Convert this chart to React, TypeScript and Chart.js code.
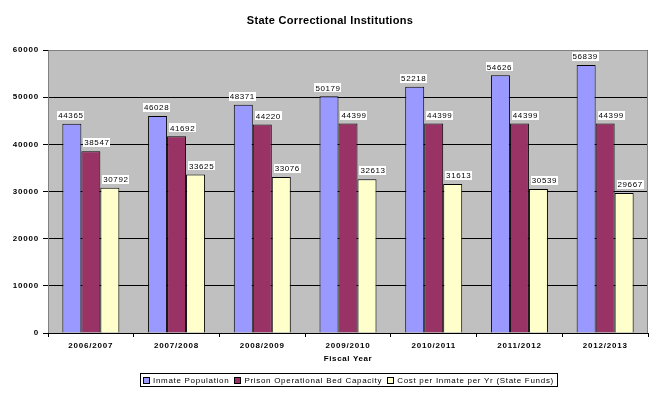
import React, { useEffect, useRef } from "react";
import { Chart, registerables } from "chart.js";

Chart.register(...registerables);

const categories = ["2006/2007", "2007/2008", "2008/2009", "2009/2010", "2010/2011", "2011/2012", "2012/2013"];
const inmatePopulation = [44365, 46028, 48371, 50179, 52218, 54626, 56839];
const bedCapacity = [38547, 41692, 44220, 44399, 44399, 44399, 44399];
const costPerInmate = [30792, 33625, 33076, 32613, 31613, 30539, 29667];
const seriesNames = ["Inmate Population", "Prison Operational Bed Capacity", "Cost per Inmate per Yr (State Funds)"];
const seriesColors = ["#9999FF", "#993366", "#FFFFCC"];
const yTicks = [0, 10000, 20000, 30000, 40000, 50000, 60000];
const titleText = "State Correctional Institutions";
const xTitleText = "Fiscal Year";

const FONT = "Arial, 'Liberation Sans', sans-serif";
const labelOffsets = [-1, 6, 6];

const decorPlugin = {
  id: "decor",
  beforeDraw(chart: any) {
    const { ctx, chartArea: a } = chart;
    ctx.save();
    ctx.fillStyle = "#FFFFFF";
    ctx.fillRect(0, 0, chart.width, chart.height);
    ctx.fillStyle = "#C0C0C0";
    ctx.fillRect(a.left, a.top, a.right - a.left, a.bottom - a.top);
    ctx.restore();
    (ctx as any).letterSpacing = "0.8px";
  },
  beforeDatasetsDraw(chart: any) {
    const { ctx, chartArea: a } = chart;
    ctx.save();
    ctx.strokeStyle = "#808080";
    ctx.lineWidth = 1;
    ctx.beginPath();
    ctx.moveTo(Math.round(a.left) + 0.5, Math.round(a.bottom));
    ctx.lineTo(Math.round(a.left) + 0.5, Math.round(a.top) + 0.5);
    ctx.lineTo(Math.round(a.right) - 0.5, Math.round(a.top) + 0.5);
    ctx.lineTo(Math.round(a.right) - 0.5, Math.round(a.bottom));
    ctx.stroke();
    ctx.restore();
  },
  afterDatasetsDraw(chart: any) {
    const { ctx } = chart;
    ctx.save();
    ctx.font = `8px ${FONT}`;
    (ctx as any).letterSpacing = "0.6px";
    ctx.textAlign = "center";
    ctx.textBaseline = "middle";
    chart.data.datasets.forEach((ds: any, di: number) => {
      const meta = chart.getDatasetMeta(di);
      meta.data.forEach((el: any, i: number) => {
        const text = String(ds.data[i]);
        const w = ctx.measureText(text).width + 2;
        const h = 9;
        const cx = el.x + labelOffsets[di];
        const bottom = el.y - 4;
        ctx.fillStyle = "#FFFFFF";
        ctx.fillRect(Math.round(cx - w / 2), Math.round(bottom - h), Math.round(w), h);
        ctx.fillStyle = "#000000";
        ctx.fillText(text, cx, bottom - h / 2 + 0.5);
      });
    });
    ctx.restore();
  },
  afterDraw(chart: any) {
    const { ctx, chartArea: a } = chart;
    ctx.save();
    ctx.fillStyle = "#000000";
    ctx.textAlign = "center";
    ctx.textBaseline = "middle";
    ctx.font = `bold 11px ${FONT}`;
    (ctx as any).letterSpacing = "0.3px";
    ctx.fillText(titleText, 330, 21);
    ctx.font = `bold 8px ${FONT}`;
    (ctx as any).letterSpacing = "0.6px";
    ctx.fillText(xTitleText, (a.left + a.right) / 2, 359);

    // legend
    ctx.font = `8px ${FONT}`;
    (ctx as any).letterSpacing = "0.7px";
    ctx.textAlign = "left";
    const box = 7;
    const gapAfterBox = 3;
    const gapBetween = 5;
    const widths = seriesNames.map((n) => ctx.measureText(n).width);
    let total = 0;
    widths.forEach((w, i) => {
      total += box + gapAfterBox + w + (i < widths.length - 1 ? gapBetween : 0);
    });
    const padX = 3;
    const cx = (a.left + a.right) / 2;
    const lx = Math.round(cx - total / 2 - padX);
    const ly = 373;
    const lh = 13;
    ctx.strokeStyle = "#000000";
    ctx.lineWidth = 1;
    ctx.strokeRect(lx + 0.5, ly + 0.5, Math.round(total + padX * 2), lh);
    let x = lx + padX;
    const my = ly + lh / 2 + 0.5;
    seriesNames.forEach((n, i) => {
      ctx.fillStyle = seriesColors[i];
      ctx.fillRect(Math.round(x), Math.round(my - box / 2), box, box);
      ctx.strokeStyle = "#000000";
      ctx.strokeRect(Math.round(x) + 0.5, Math.round(my - box / 2) + 0.5, box - 1, box - 1);
      x += box + gapAfterBox;
      ctx.fillStyle = "#000000";
      ctx.fillText(n, x, my + 0.5);
      x += widths[i] + gapBetween;
    });
    ctx.restore();
  },
};

export default function App() {
  const ref = useRef<HTMLCanvasElement>(null);
  useEffect(() => {
    document.body.style.margin = "0";
    const canvas = ref.current!;
    const values = [inmatePopulation, bedCapacity, costPerInmate];
    const chart = new Chart(canvas, {
      type: "bar",
      data: {
        labels: categories,
        datasets: values.map((v, i) => ({
          label: seriesNames[i],
          data: v,
          backgroundColor: seriesColors[i],
          borderColor: "#000000",
          borderWidth: 1,
          barPercentage: 1,
          categoryPercentage: 0.665,
        })),
      },
      options: {
        responsive: false,
        animation: false,
        devicePixelRatio: 1,
        layout: { padding: { top: 50, right: 12, left: 0, bottom: 0 } },
        plugins: {
          legend: { display: false },
          title: { display: false },
          tooltip: { enabled: false },
        },
        scales: {
          x: {
            grid: { display: true, drawOnChartArea: false, drawTicks: true, tickLength: 4, color: "#000000", offset: true },
            border: { display: false },
            ticks: { color: "#000000", font: { family: FONT, size: 8, weight: "bold" }, padding: 4, maxRotation: 0 },
            afterFit: (s: any) => { s.height = 60; },
          },
          y: {
            min: 0,
            max: 60000,
            afterBuildTicks: (s: any) => { s.ticks = yTicks.map((v) => ({ value: v })); },
            grid: { color: "#000000", tickLength: 5, drawTicks: true },
            border: { display: false },
            ticks: {
              color: "#000000",
              font: { family: FONT, size: 8, weight: "bold" },
              padding: 4,
              callback: (v: any) => String(v),
            },
            afterFit: (s: any) => { s.width = 48; },
          },
        },
      },
      plugins: [decorPlugin],
    } as any);
    return () => chart.destroy();
  }, []);
  return <canvas ref={ref} width={660} height={393} style={{ display: "block", width: 660, height: 393 }} />;
}
